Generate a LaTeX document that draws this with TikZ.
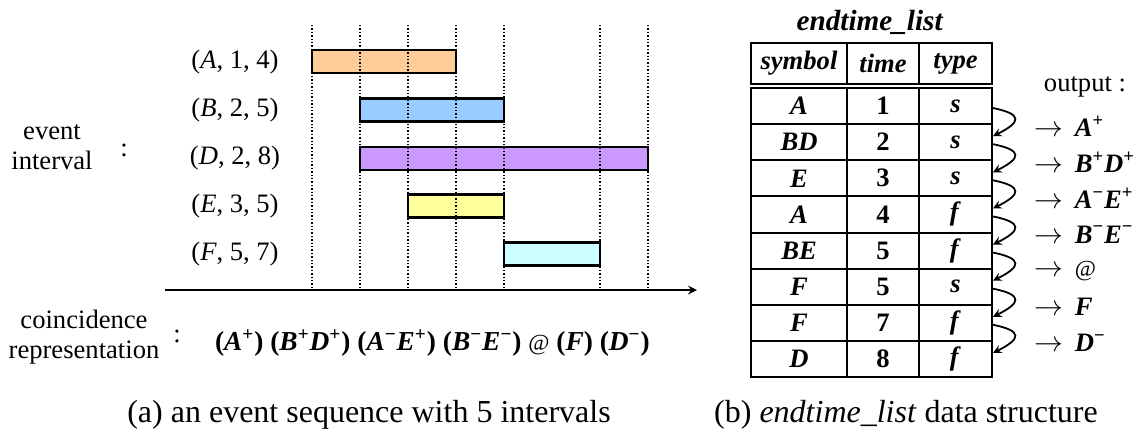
\documentclass[tikz,border=0pt]{standalone}
\usepackage{fontspec}
\setmainfont{Liberation Serif}
\definecolor{barorange}{HTML}{FFCC99}
\definecolor{barblue}{HTML}{99CCFF}
\definecolor{barviolet}{HTML}{CC99FF}
\definecolor{baryellow}{HTML}{FFFF99}
\definecolor{barcyan}{HTML}{CCFFFF}
\newcommand{\evt}[1]{\textbf{\textit{#1}}}
\newcommand{\pls}{\textsuperscript{+}}
\newcommand{\mns}{\textsuperscript{−}}
\newcommand{\atsign}{{\mdseries\fontsize{11.5}{12}\selectfont @}}

\begin{document}
\begin{tikzpicture}[x=0.5pt, y=-0.5pt, font=\fontsize{13.3}{15}\selectfont]
    % Styles
    \tikzstyle{bar} = [rectangle, draw, line width=1.3pt, minimum height=11.5pt, inner sep=0pt]
    \tikzstyle{tickline} = [line width=0.6pt, dash pattern=on 0.7pt off 1pt]
    \tikzstyle{axis} = [line width=1pt,->,>=stealth]
    \tikzstyle{cell} = [rectangle, draw, line width=1pt, inner sep=0pt, minimum height=18.06pt]
    \tikzstyle{curl} = [line width=0.9pt,->,>=stealth]
    \tikzstyle{captext} = [font=\fontsize{16}{18}\selectfont]
    \useasboundingbox (0,0) rectangle (1141,434);

    % Nodes
    \node[align=center] (evlabel) at (52,147) {event\\interval};
    \node (evcolon) at (124,150) {:};
    \node (labA) at (235,62) {(\textit{A}, 1, 4)};
    \node (labB) at (235,110) {(\textit{B}, 2, 5)};
    \node (labD) at (235,158) {(\textit{D}, 2, 8)};
    \node (labE) at (235,206) {(\textit{E}, 3, 5)};
    \node (labF) at (235,254) {(\textit{F}, 5, 7)};
    \node[bar, fill=barorange, minimum width=72pt] (barA) at (384,61.5) {};
    \node[bar, fill=barblue, minimum width=72pt] (barB) at (432,110) {};
    \node[bar, fill=barviolet, minimum width=144pt] (barD) at (504,158.5) {};
    \node[bar, fill=baryellow, minimum width=48pt] (barE) at (456,206) {};
    \node[bar, fill=barcyan, minimum width=48pt] (barF) at (552,254) {};
    \foreach \t in {1,2,3,4,5,7,8}
        \draw[tickline] ({264+48*\t},25) -- ({264+48*\t},287);
    \coordinate (axL) at (165,290);
    \coordinate (axR) at (697,290);

    \node[align=center] (colabel) at (84,337) {coincidence\\representation};
    \node (cocolon) at (177,336) {:};
    \node[anchor=west, font=\fontsize{13.7}{15}\selectfont] (coinc) at (208,343) {\bfseries (\evt{A}\pls) (\evt{B}\pls\evt{D}\pls) (\evt{A}\mns\evt{E}\pls) (\evt{B}\mns\evt{E}\mns) \atsign{} (\evt{F}) (\evt{D}\mns)};

    \node[font=\fontsize{14.6}{16}\selectfont] (title) at (870,22) {\evt{endtime\_list}};
    \node[cell, minimum width=48pt, minimum height=20.5pt] (hsym) at (799,63.5) {\evt{symbol}};
    \node[cell, minimum width=36pt, minimum height=20.5pt] (htim) at (883,63.5) {\evt{time}};
    \node[cell, minimum width=36.5pt, minimum height=20.5pt] (htyp) at (955.5,63.5) {\evt{type}};
    \foreach \smb/\tim/\typ [count=\i] in {A/1/s, BD/2/s, E/3/s, A/4/f, BE/5/f, F/5/s, F/7/f, D/8/f} {
        \node[cell, minimum width=48pt] (sym\i) at (799,{88+36.125*(\i-0.5)}) {\evt{\smb}};
        \node[cell, minimum width=36pt] (tim\i) at (883,{88+36.125*(\i-0.5)}) {\textbf{\tim}};
        \node[cell, minimum width=36.5pt] (typ\i) at (955.5,{88+36.125*(\i-0.5)}) {\evt{\typ}};
    }

    \node (outhead) at (1085,87) {output :};
    \foreach \o [count=\i] in {{\evt{A}\pls}, {\evt{B}\pls\evt{D}\pls}, {\evt{A}\mns\evt{E}\pls}, {\evt{B}\mns\evt{E}\mns}, {\atsign}, {\evt{F}}, {\evt{D}\mns}}
        \node[anchor=west] (out\i) at (1027,{90+36.125*\i}) {\bfseries $\rightarrow$\hspace{0.45em}\o};

    \node[captext] (capA) at (369,415) {(a) an event sequence with 5 intervals};
    \node[captext] (capB) at (906,415) {(b) \textit{endtime\_list} data structure};

    % Arrows
    \draw[axis] (axL) -- (axR);
    \foreach \i in {1,...,7} {
        \pgfmathtruncatemacro{\j}{\i+1}
        \draw[curl] ([yshift=-1pt]typ\i.east) .. controls +(15pt,-3pt) and +(14pt,7pt) .. ([yshift=3pt]typ\j.east);
    }
\end{tikzpicture}
\end{document}
